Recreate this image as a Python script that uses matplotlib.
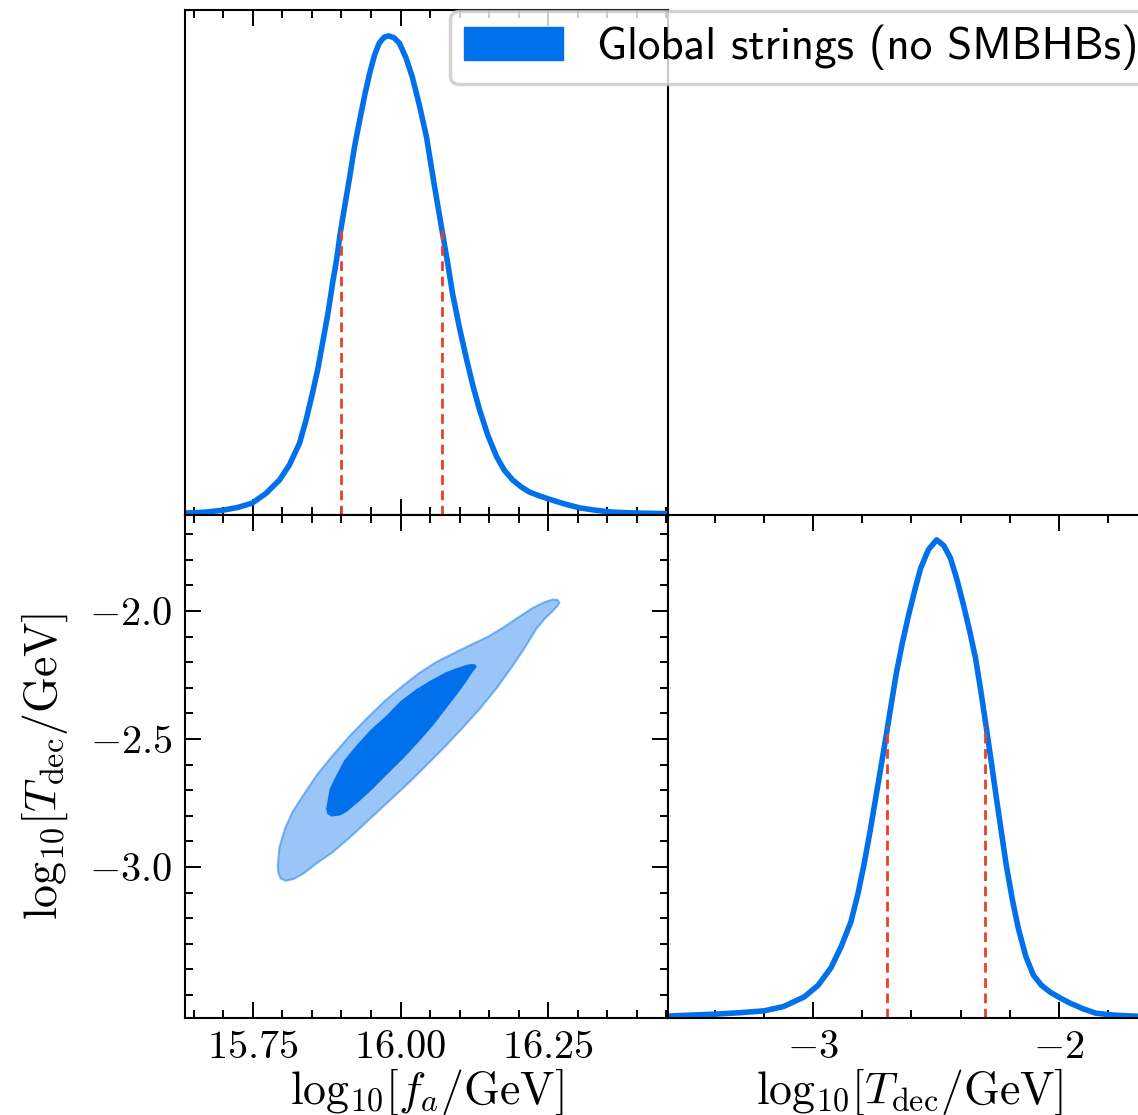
import matplotlib
matplotlib.use("Agg")
import matplotlib.pyplot as plt
from matplotlib.ticker import MultipleLocator, FixedLocator
from matplotlib.font_manager import FontProperties

plt.rcParams.update({
    "mathtext.fontset": "cm",
    "font.family": "serif",
    "font.serif": ["cmr10"],
    "axes.formatter.use_mathtext": True,
    "font.size": 29,
    "axes.unicode_minus": True,
})

# 1D posterior of log10(f_a/GeV), normalised to peak
fa_grid = [15.634, 15.670, 15.699, 15.725, 15.749, 15.772, 15.795, 15.812, 15.829,
           15.840, 15.851, 15.860, 15.868, 15.877, 15.885, 15.892, 15.898, 15.906,
           15.914, 15.922, 15.931, 15.940, 15.948, 15.956, 15.964, 15.972, 15.980,
           15.989, 15.998, 16.009, 16.020, 16.032, 16.044, 16.057, 16.071, 16.080,
           16.088, 16.100, 16.112, 16.123, 16.134, 16.148, 16.163, 16.176, 16.190,
           16.204, 16.218, 16.235, 16.252, 16.278, 16.303, 16.330, 16.359, 16.400,
           16.450]
fa_pdf = [0.004, 0.006, 0.010, 0.016, 0.025, 0.045, 0.073, 0.105, 0.150,
          0.198, 0.255, 0.305, 0.359, 0.420, 0.484, 0.535, 0.589, 0.648,
          0.706, 0.768, 0.825, 0.880, 0.923, 0.960, 0.985, 0.997, 1.000,
          0.996, 0.985, 0.955, 0.914, 0.855, 0.789, 0.690, 0.589, 0.525,
          0.463, 0.390, 0.324, 0.268, 0.219, 0.166, 0.121, 0.093, 0.073,
          0.059, 0.048, 0.040, 0.033, 0.023, 0.015, 0.010, 0.006, 0.004,
          0.003]
fa_sigma = [15.900, 16.071]
fa_sigma_h = [0.595, 0.595]

# 1D posterior of log10(T_dec/GeV)
td_grid = [-3.590, -3.500, -3.401, -3.300, -3.199, -3.120, -3.036, -2.980, -2.927,
           -2.885, -2.846, -2.818, -2.793, -2.768, -2.745, -2.722, -2.700, -2.680,
           -2.660, -2.636, -2.611, -2.586, -2.562, -2.530, -2.497, -2.468, -2.441,
           -2.415, -2.388, -2.363, -2.339, -2.317, -2.295, -2.274, -2.254, -2.234,
           -2.214, -2.190, -2.165, -2.135, -2.104, -2.070, -2.035, -1.995, -1.954,
           -1.900, -1.849, -1.775, -1.699, -1.625]
td_pdf = [0.004, 0.006, 0.008, 0.011, 0.015, 0.024, 0.044, 0.068, 0.105,
          0.150, 0.201, 0.258, 0.320, 0.390, 0.460, 0.530, 0.598, 0.662,
          0.724, 0.786, 0.843, 0.895, 0.941, 0.980, 1.000, 0.988, 0.962,
          0.918, 0.864, 0.810, 0.753, 0.683, 0.607, 0.533, 0.460, 0.390,
          0.320, 0.250, 0.188, 0.130, 0.090, 0.068, 0.054, 0.042, 0.031,
          0.019, 0.010, 0.006, 0.004, 0.003]
td_sigma = [-2.699, -2.299]
td_sigma_h = [0.61, 0.61]

# 2D credible regions (outer and inner), boundary vertices
outer_fa = [15.792, 15.793, 15.797, 15.806, 15.819, 15.835, 15.859, 15.885, 15.917,
            15.948, 15.981, 16.015, 16.046, 16.077, 16.105, 16.134, 16.163, 16.190,
            16.210, 16.230, 16.244, 16.258, 16.266, 16.269, 16.266, 16.258, 16.244,
            16.224, 16.198, 16.173, 16.147, 16.122, 16.091, 16.060, 16.032, 16.004,
            15.973, 15.942, 15.914, 15.885, 15.858, 15.835, 15.817, 15.804, 15.795]
outer_td = [-2.995, -3.023, -3.045, -3.054, -3.047, -3.027, -2.984, -2.943, -2.879,
            -2.8125, -2.742, -2.669, -2.598, -2.526, -2.457, -2.383, -2.301, -2.214,
            -2.145, -2.070, -2.031, -2.000, -1.980, -1.967, -1.957, -1.955, -1.965,
            -1.988, -2.027, -2.066, -2.102, -2.129, -2.164, -2.200, -2.242, -2.292,
            -2.352, -2.422, -2.488, -2.565, -2.641, -2.721, -2.785, -2.852, -2.922]
inner_fa = [15.874, 15.876, 15.883, 15.897, 15.908, 15.931, 15.953, 15.978, 16.004,
            16.029, 16.055, 16.074, 16.094, 16.110, 16.122, 16.129, 16.127, 16.120,
            16.111, 16.095, 16.077, 16.052, 16.027, 16.000, 15.976, 15.949, 15.925,
            15.905, 15.891, 15.880]
inner_td = [-2.773, -2.793, -2.803, -2.799, -2.786, -2.742, -2.695, -2.637, -2.578,
            -2.516, -2.448, -2.391, -2.331, -2.281, -2.239, -2.219, -2.209, -2.207,
            -2.211, -2.223, -2.239, -2.270, -2.305, -2.352, -2.409, -2.465, -2.526,
            -2.582, -2.643, -2.695]

fa_lim = (15.635, 16.453)
td_lim = (-3.59, -1.625)
td_major = [-3.0, -2.5, -2.0]

blue = "#0071EB"
red = "#E8412C"

W, H = 1138, 1115
fig = plt.figure(figsize=(W / 100, H / 100), dpi=100)
ax_fa = fig.add_axes([185 / W, (H - 515) / H, 483 / W, 505 / H])
ax_2d = fig.add_axes([185 / W, (H - 1018) / H, 483 / W, 503 / H])
ax_td = fig.add_axes([668 / W, (H - 1018) / H, 483 / W, 503 / H])

for ax in (ax_fa, ax_2d, ax_td):
    for s in ax.spines.values():
        s.set_linewidth(1.5)
    ax.tick_params(which="both", direction="in", width=1.4, pad=9)
    ax.tick_params(which="major", length=11.5)
    ax.tick_params(which="minor", length=5.8)

# top-left 1D
ax_fa.plot(fa_grid, fa_pdf, color=blue, lw=4, solid_capstyle="round")
ax_fa.vlines(fa_sigma, 0, fa_sigma_h, colors=red, linestyles=(0, (3.5, 2)), lw=2)
ax_fa.set_xlim(fa_lim)
ax_fa.set_ylim(0, 1.054)
ax_fa.xaxis.set_major_locator(MultipleLocator(0.25))
ax_fa.xaxis.set_minor_locator(MultipleLocator(0.05))
ax_fa.tick_params(which="both", top=True, bottom=True, labelbottom=False)
ax_fa.set_yticks([])

# bottom-left 2D
ax_2d.fill(outer_fa, outer_td, facecolor=blue, alpha=0.4, edgecolor="none")
ax_2d.fill(outer_fa, outer_td, facecolor="none", edgecolor=blue, alpha=0.45, lw=1.5)
ax_2d.fill(inner_fa, inner_td, facecolor=blue, edgecolor="none")
ax_2d.set_xlim(fa_lim)
ax_2d.set_ylim(td_lim)
ax_2d.xaxis.set_major_locator(MultipleLocator(0.25))
ax_2d.xaxis.set_minor_locator(MultipleLocator(0.05))
ax_2d.yaxis.set_major_locator(FixedLocator(td_major))
ax_2d.yaxis.set_minor_locator(MultipleLocator(0.1))
ax_2d.tick_params(which="both", top=True, right=True)
ax_2d.set_xlabel(r"$\mathrm{log}_{10}[f_a/\mathrm{GeV}]$", fontsize=33, labelpad=0)
ax_2d.set_ylabel(r"$\mathrm{log}_{10}[T_\mathrm{dec}/\mathrm{GeV}]$", fontsize=33, labelpad=14)

# bottom-right 1D
ax_td.plot(td_grid, td_pdf, color=blue, lw=4, solid_capstyle="round")
ax_td.vlines(td_sigma, 0, td_sigma_h, colors=red, linestyles=(0, (3.5, 2)), lw=2)
ax_td.set_xlim(td_lim)
ax_td.set_ylim(0, 1.052)
ax_td.xaxis.set_major_locator(MultipleLocator(1))
ax_td.xaxis.set_minor_locator(MultipleLocator(0.2))
ax_td.tick_params(which="both", top=True, bottom=True)
ax_td.set_yticks([])
ax_td.set_xlabel(r"$\mathrm{log}_{10}[T_\mathrm{dec}/\mathrm{GeV}]$", fontsize=33, labelpad=0)

handle = plt.Rectangle((0, 0), 1, 1, color=blue)
leg = fig.legend([handle], ["Global strings (no SMBHBs)"], loc="upper left",
                 bbox_to_anchor=(450 / W, 1 - 11 / H), borderaxespad=0,
                 prop=FontProperties(family="cmss10", size=32.5),
                 handlelength=2.2, handleheight=0.75, handletextpad=0.75,
                 borderpad=0.3, framealpha=0.8, edgecolor="#c8c8c8")
leg.get_frame().set_linewidth(2.5)

fig.savefig("out.png", dpi=100)
